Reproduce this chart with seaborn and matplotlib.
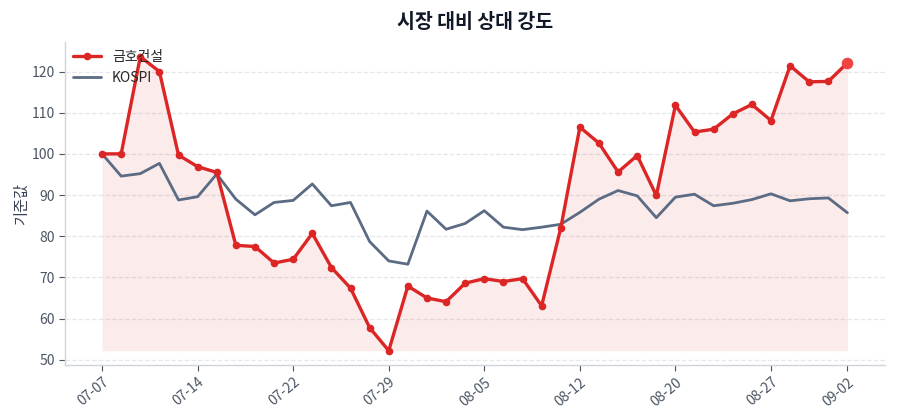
import numpy as np
import pandas as pd
import matplotlib
matplotlib.use("Agg")
import matplotlib.pyplot as plt
import seaborn as sns

# ---- data ----
dates = ["07-07", "07-08", "07-09", "07-10", "07-11", "07-14", "07-15", "07-16",
         "07-17", "07-18", "07-22", "07-23", "07-24", "07-25", "07-28", "07-29",
         "07-30", "07-31", "08-01", "08-04", "08-05", "08-06", "08-07", "08-08",
         "08-11", "08-12", "08-13", "08-14", "08-18", "08-19", "08-20", "08-21",
         "08-22", "08-25", "08-26", "08-27", "08-28", "08-29", "09-01", "09-02"]

stock = [100.0, 100.0, 123.6, 120.0, 99.7, 96.9, 95.5, 77.8, 77.5, 73.5,
         74.4, 80.7, 72.4, 67.4, 57.8, 52.2, 67.9, 65.0, 64.1, 68.6,
         69.7, 69.0, 69.7, 63.1, 82.0, 106.5, 102.6, 95.6, 99.6, 89.9,
         111.8, 105.3, 106.0, 109.7, 112.0, 108.1, 121.4, 117.5, 117.6, 122.1]

kospi = [100.0, 94.6, 95.2, 97.7, 88.8, 89.6, 95.1, 89.0, 85.2, 88.2,
         88.7, 92.7, 87.4, 88.2, 78.7, 74.0, 73.2, 86.1, 81.7, 83.1,
         86.2, 82.2, 81.6, 82.2, 82.9, 85.8, 89.0, 91.1, 89.8, 84.5,
         89.5, 90.2, 87.4, 88.0, 88.9, 90.3, 88.6, 89.1, 89.3, 85.7]

stock_name = "금호건설"
index_name = "KOSPI"

# ---- style ----
sns.set_theme(style="white")
plt.rcParams["font.family"] = ["Noto Sans CJK KR", "DejaVu Sans"]

RED = "#dc2626"
SLATE = "#5b6b84"
TEXT = "#4b5563"

df = pd.DataFrame({"idx": np.arange(len(dates)), "date": dates,
                   stock_name: stock, index_name: kospi})

fig, ax = plt.subplots(figsize=(9, 4.2), dpi=100)

ax.fill_between(df["idx"], df[stock_name], df[stock_name].min(),
                color=RED, alpha=0.09, linewidth=0, zorder=1)
sns.lineplot(data=df, x="idx", y=stock_name, ax=ax, color=RED, linewidth=2.4,
             marker="o", markersize=5.5, markeredgewidth=0, label=stock_name, zorder=3)
sns.lineplot(data=df, x="idx", y=index_name, ax=ax, color=SLATE, linewidth=2.0,
             label=index_name, zorder=2)

# highlight the latest point
ax.scatter(df["idx"].iloc[-1], df[stock_name].iloc[-1], s=70, color="#ef4444",
           zorder=4, linewidths=0)

tick_pos = list(range(0, len(dates), 5))
if tick_pos[-1] != len(dates) - 1:
    tick_pos.append(len(dates) - 1)
ax.set_xticks(tick_pos)
ax.set_xticklabels([dates[i] for i in tick_pos], rotation=40, ha="right",
                   rotation_mode="anchor")
ax.set_yticks(range(50, 121, 10))

ax.grid(axis="y", linestyle="--", color="#e5e7eb", linewidth=0.9)
ax.grid(axis="x", visible=False)
sns.despine(ax=ax)
for side in ["left", "bottom"]:
    ax.spines[side].set_color("#d1d5db")
    ax.spines[side].set_linewidth(1.0)
ax.tick_params(axis="both", colors=TEXT, labelsize=10, length=4, width=0.8,
               direction="out", bottom=True, left=True, pad=3)
for lab in ax.get_xticklabels() + ax.get_yticklabels():
    lab.set_color(TEXT)

ax.set_xlabel("")
ax.set_ylabel("기준값", color="#374151", fontsize=11, labelpad=1)
ax.set_title("시장 대비 상대 강도", fontsize=14, fontweight="bold", color="#111827", pad=10)

leg = ax.legend(loc="upper left", frameon=False, fontsize=10,
                borderaxespad=0.2, handlelength=2.0)

fig.subplots_adjust(left=0.072, right=0.983, top=0.9, bottom=0.13)
fig.savefig("out.png", dpi=100)
